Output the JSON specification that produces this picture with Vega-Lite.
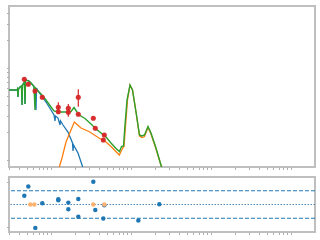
{
  "$schema": "https://vega.github.io/schema/vega-lite/v6.json",
  "padding": {"left": 5, "top": 5, "right": 0, "bottom": 0},
  "spacing": 10,
  "bounds": "flush",
  "config": {
    "view": {"stroke": "#bfbfbf", "strokeWidth": 2},
    "axis": {"labels": false, "domain": false, "grid": false, "tickColor": "#b0b0b0", "tickSize": 2.5, "tickWidth": 1}
  },
  "datasets": {
    "green": [
      {"x": 0.02985, "y": 5.768}, {"x": 0.03758, "y": 5.768}, {"x": 0.03813, "y": 5.912}, {"x": 0.03868, "y": 4.839},
      {"x": 0.03925, "y": 5.912}, {"x": 0.04098, "y": 6.215}, {"x": 0.04279, "y": 6.372}, {"x": 0.04341, "y": 3.961},
      {"x": 0.04404, "y": 6.533}, {"x": 0.04664, "y": 7.043}, {"x": 0.04732, "y": 4.061}, {"x": 0.04801, "y": 7.221},
      {"x": 0.0487, "y": 7.405}, {"x": 0.05309, "y": 7.221}, {"x": 0.05623, "y": 6.871}, {"x": 0.06131, "y": 6.293},
      {"x": 0.0631, "y": 3.495}, {"x": 0.06401, "y": 6.061}, {"x": 0.06879, "y": 5.623}, {"x": 0.07499, "y": 5.217},
      {"x": 0.0866, "y": 4.489}, {"x": 0.1, "y": 3.768}, {"x": 0.109, "y": 3.409}, {"x": 0.1223, "y": 3.325},
      {"x": 0.154, "y": 3.325}, {"x": 0.1778, "y": 3.367}, {"x": 0.1939, "y": 3.721}, {"x": 0.2113, "y": 3.325},
      {"x": 0.2304, "y": 3.046}, {"x": 0.2661, "y": 2.826}, {"x": 0.3162, "y": 2.462}, {"x": 0.3652, "y": 2.173},
      {"x": 0.4217, "y": 1.966}, {"x": 0.487, "y": 1.778}, {"x": 0.5623, "y": 1.53}, {"x": 0.6494, "y": 1.334},
      {"x": 0.7182, "y": 1.237}, {"x": 0.7606, "y": 1.402}, {"x": 0.8058, "y": 1.42}, {"x": 0.8414, "y": 2.401},
      {"x": 0.8913, "y": 4.489}, {"x": 0.9716, "y": 6.533}, {"x": 1.044, "y": 5.768}, {"x": 1.155, "y": 3.325},
      {"x": 1.277, "y": 1.87}, {"x": 1.372, "y": 1.823}, {"x": 1.475, "y": 1.87}, {"x": 1.631, "y": 2.313},
      {"x": 1.778, "y": 1.966}, {"x": 2.054, "y": 1.35}, {"x": 2.406, "y": 0.8394}, {"x": 2.512, "y": 0.741}
    ],
    "blue": [
      {"x": 0.02985, "y": 5.768}, {"x": 0.03758, "y": 5.768}, {"x": 0.03813, "y": 5.912}, {"x": 0.03868, "y": 4.839},
      {"x": 0.03925, "y": 5.912}, {"x": 0.04098, "y": 6.215}, {"x": 0.04279, "y": 6.372}, {"x": 0.04341, "y": 3.961},
      {"x": 0.04404, "y": 6.533}, {"x": 0.04664, "y": 7.043}, {"x": 0.04732, "y": 4.061}, {"x": 0.04801, "y": 7.221},
      {"x": 0.0487, "y": 7.405}, {"x": 0.05309, "y": 7.221}, {"x": 0.05623, "y": 6.871}, {"x": 0.06131, "y": 6.293},
      {"x": 0.06494, "y": 3.495}, {"x": 0.06588, "y": 6.061}, {"x": 0.06879, "y": 5.623}, {"x": 0.07499, "y": 5.089},
      {"x": 0.0866, "y": 4.27}, {"x": 0.1, "y": 3.495}, {"x": 0.109, "y": 3.084}, {"x": 0.1122, "y": 2.655},
      {"x": 0.1138, "y": 3.008}, {"x": 0.1223, "y": 2.86}, {"x": 0.1296, "y": 2.401}, {"x": 0.1315, "y": 2.655},
      {"x": 0.1413, "y": 2.401}, {"x": 0.1631, "y": 2.015}, {"x": 0.1857, "y": 1.53}, {"x": 0.1884, "y": 1.253},
      {"x": 0.1911, "y": 1.456}, {"x": 0.2175, "y": 1.191}, {"x": 0.2512, "y": 0.8185}
    ],
    "orange": [
      {"x": 0.1259, "y": 0.8185}, {"x": 0.1372, "y": 1.051}, {"x": 0.154, "y": 1.569}, {"x": 0.1778, "y": 2.119},
      {"x": 0.1956, "y": 2.588}, {"x": 0.2157, "y": 2.401}, {"x": 0.2371, "y": 2.227}, {"x": 0.2985, "y": 2.041},
      {"x": 0.3981, "y": 1.734}, {"x": 0.487, "y": 1.569}, {"x": 0.5623, "y": 1.402}, {"x": 0.7141, "y": 1.133},
      {"x": 0.7874, "y": 1.35}, {"x": 0.8175, "y": 1.402}, {"x": 0.8536, "y": 2.342}, {"x": 0.9042, "y": 4.489},
      {"x": 0.9716, "y": 6.533}, {"x": 1.044, "y": 5.768}, {"x": 1.155, "y": 3.325}, {"x": 1.277, "y": 1.823},
      {"x": 1.372, "y": 1.756}, {"x": 1.475, "y": 1.8}, {"x": 1.631, "y": 2.256}, {"x": 1.778, "y": 1.917},
      {"x": 2.054, "y": 1.317}, {"x": 2.406, "y": 0.8394}, {"x": 2.512, "y": 0.741}
    ],
    "obs": [
      {"x": 0.04637, "y": 7.539, "lo": 7.25, "hi": 7.85},
      {"x": 0.05203, "y": 6.649, "lo": 6.37, "hi": 6.94},
      {"x": 0.0631, "y": 5.623, "lo": 5.4, "hi": 5.85},
      {"x": 0.07784, "y": 4.804, "lo": 4.6, "hi": 5.0},
      {"x": 0.1234, "y": 3.74, "lo": 3.218, "hi": 4.239},
      {"x": 0.1234, "y": 3.35, "lo": 3.2, "hi": 3.5},
      {"x": 0.1646, "y": 3.648, "lo": 3.35, "hi": 4.061},
      {"x": 0.1646, "y": 3.3, "lo": 2.956, "hi": 3.5},
      {"x": 0.2194, "y": 4.804, "lo": 3.796, "hi": 5.868},
      {"x": 0.2194, "y": 3.139, "lo": 3.0, "hi": 3.28},
      {"x": 0.3379, "y": 2.84, "lo": 2.75, "hi": 2.93},
      {"x": 0.3579, "y": 2.211, "lo": 2.14, "hi": 2.28},
      {"x": 0.4637, "y": 1.87, "lo": 1.81, "hi": 1.93},
      {"x": 0.4506, "y": 1.65, "lo": 1.6, "hi": 1.7}
    ],
    "resid": [
      {"x": 0.04637, "r": 1.9, "kind": "det"},
      {"x": 0.05203, "r": 3.94, "kind": "det"},
      {"x": 0.06364, "r": -5.1, "kind": "det"},
      {"x": 0.07784, "r": 0.27, "kind": "det"},
      {"x": 0.1234, "r": 1.14, "kind": "det"},
      {"x": 0.1234, "r": 0.95, "kind": "det"},
      {"x": 0.1646, "r": 0.41, "kind": "det"},
      {"x": 0.1646, "r": -1.02, "kind": "det"},
      {"x": 0.2194, "r": 1.22, "kind": "det"},
      {"x": 0.2194, "r": -2.65, "kind": "det"},
      {"x": 0.3379, "r": 4.96, "kind": "det"},
      {"x": 0.3579, "r": -1.22, "kind": "det"},
      {"x": 0.4506, "r": -3.06, "kind": "det"},
      {"x": 0.4637, "r": -0.14, "kind": "det"},
      {"x": 1.234, "r": -3.47, "kind": "det"},
      {"x": 2.259, "r": 0.06, "kind": "det"},
      {"x": 0.05512, "r": 0, "kind": "lim"},
      {"x": 0.06184, "r": 0, "kind": "lim"},
      {"x": 0.3379, "r": 0, "kind": "lim"},
      {"x": 0.4637, "r": 0, "kind": "lim"}
    ],
    "hlines": [
      {"r": 3, "kind": "sigma"},
      {"r": -3, "kind": "sigma"},
      {"r": 0, "kind": "zero"}
    ]
  },
  "vconcat": [
    {
      "width": 306,
      "height": 161,
      "encoding": {
        "x": {"field": "x", "type": "quantitative", "scale": {"type": "log", "domain": [0.02985, 199.5]},
              "axis": {"title": null, "values": [0.03,0.04,0.05,0.06,0.07,0.08,0.09,0.1,0.2,0.3,0.4,0.5,0.6,0.7,0.8,0.9,1,2,3,4,5,6,7,8,9,10,20,30,40,50,60,70,80,90,100]}},
        "y": {"field": "y", "type": "quantitative", "scale": {"type": "log", "domain": [0.8394, 47.2]},
              "axis": {"title": null, "values": [1,2,3,4,5,6,7,8,9,10,20,30,40]}}
      },
      "layer": [
        {"data": {"name": "blue"}, "mark": {"type": "line", "color": "#1f77b4", "strokeWidth": 1.3, "clip": true}},
        {"data": {"name": "orange"}, "mark": {"type": "line", "color": "#ff7f0e", "strokeWidth": 1.3, "clip": true}},
        {"data": {"name": "green"}, "mark": {"type": "line", "color": "#2ca02c", "strokeWidth": 1.4, "clip": true}},
        {"data": {"name": "obs"}, "mark": {"type": "rule", "color": "#d62728", "strokeWidth": 1.2},
         "encoding": {"y": {"field": "lo", "type": "quantitative"}, "y2": {"field": "hi"}}},
        {"data": {"name": "obs"}, "mark": {"type": "circle", "color": "#d62728", "size": 26, "opacity": 0.95}}
      ]
    },
    {
      "width": 306,
      "height": 55,
      "layer": [
        {"data": {"name": "hlines"}, "transform": [{"filter": "datum.kind == 'sigma'"}],
         "mark": {"type": "rule", "color": "#1f77b4", "strokeWidth": 1, "strokeDash": [4, 2]},
         "encoding": {"y": {"field": "r", "type": "quantitative", "scale": {"domain": [-5.45, 5.78]}, "axis": {"title": null, "values": [-5, 0, 5]}}}},
        {"data": {"name": "hlines"}, "transform": [{"filter": "datum.kind == 'zero'"}],
         "mark": {"type": "rule", "color": "#4f86b8", "strokeWidth": 1, "strokeDash": [1.5, 1.5]},
         "encoding": {"y": {"field": "r", "type": "quantitative"}}},
        {"data": {"name": "resid"}, "mark": {"type": "circle", "size": 20, "opacity": 1},
         "encoding": {
           "x": {"field": "x", "type": "quantitative", "scale": {"type": "log", "domain": [0.02985, 199.5]},
                 "axis": {"title": null, "values": [0.03,0.04,0.05,0.06,0.07,0.08,0.09,0.1,0.2,0.3,0.4,0.5,0.6,0.7,0.8,0.9,1,2,3,4,5,6,7,8,9,10,20,30,40,50,60,70,80,90,100]}},
           "y": {"field": "r", "type": "quantitative"},
           "color": {"field": "kind", "type": "nominal", "scale": {"domain": ["det", "lim"], "range": ["#1f77b4", "#ffb26e"]}, "legend": null}
         }}
      ]
    }
  ]
}
